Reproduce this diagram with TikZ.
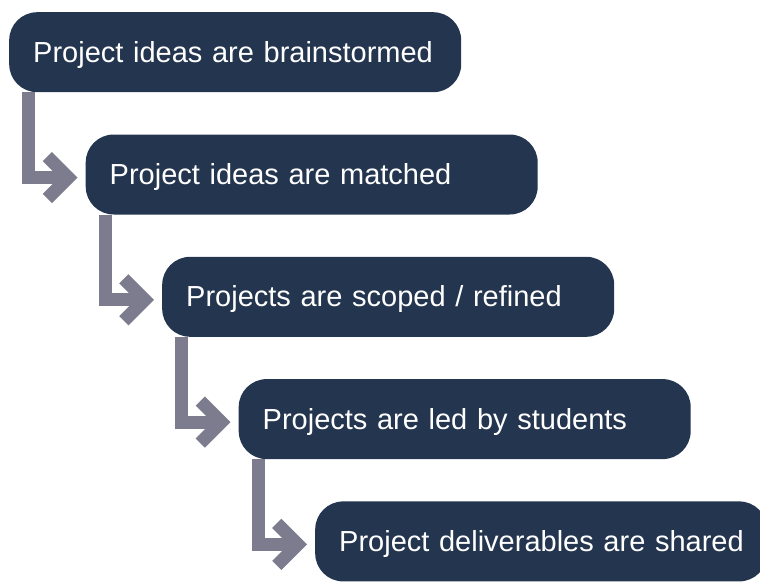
\documentclass[tikz,border=0pt]{standalone}
\usepackage{fontspec}
\setmainfont{Liberation Sans}
\usetikzlibrary{arrows.meta}
\definecolor{boxnavy}{HTML}{24354F}
\definecolor{linkgray}{HTML}{7C7C8E}
\tikzset{
  stepbox/.style={rectangle,rounded corners=28pt,fill=boxnavy,text=white,anchor=north west,
    minimum width=452pt,minimum height=80pt,text width=404pt,inner xsep=24pt,inner ysep=0pt,
    text height=20pt,text depth=-1pt,align=left,font=\fontsize{29}{34}\selectfont},
  steplink/.style={draw=linkgray,line width=13pt,line join=miter,shorten >=8pt,
    -{Straight Barb[length=21pt,width=42pt]}}
}
\newcommand{\stepnode}[4]{\node[stepbox] (#1) at (#2,#3) {\mbox{#4}};}
\newcommand{\steplinkto}[2]{\draw[steplink] ([xshift=19.5pt]#1.south west) |- ([yshift=-3pt]#2.west);}

\begin{document}
\begin{tikzpicture}[x=1pt,y=-1pt]
	\useasboundingbox (0,0) rectangle (760,582);
	\def\dx{76.5} \def\dy{122.3}
	\stepnode{s1}{9}{12}{Project ideas are brainstormed}
	\stepnode{s2}{9+\dx}{12+\dy}{Project ideas are matched}
	\stepnode{s3}{9+2*\dx}{12+2*\dy}{Projects are scoped / refined}
	\stepnode{s4}{9+3*\dx}{12+3*\dy}{Projects are led by students}
	\stepnode{s5}{9+4*\dx}{12+4*\dy}{Project deliverables are shared}
	\steplinkto{s1}{s2} \steplinkto{s2}{s3}
	\steplinkto{s3}{s4} \steplinkto{s4}{s5}
\end{tikzpicture}
\end{document}
